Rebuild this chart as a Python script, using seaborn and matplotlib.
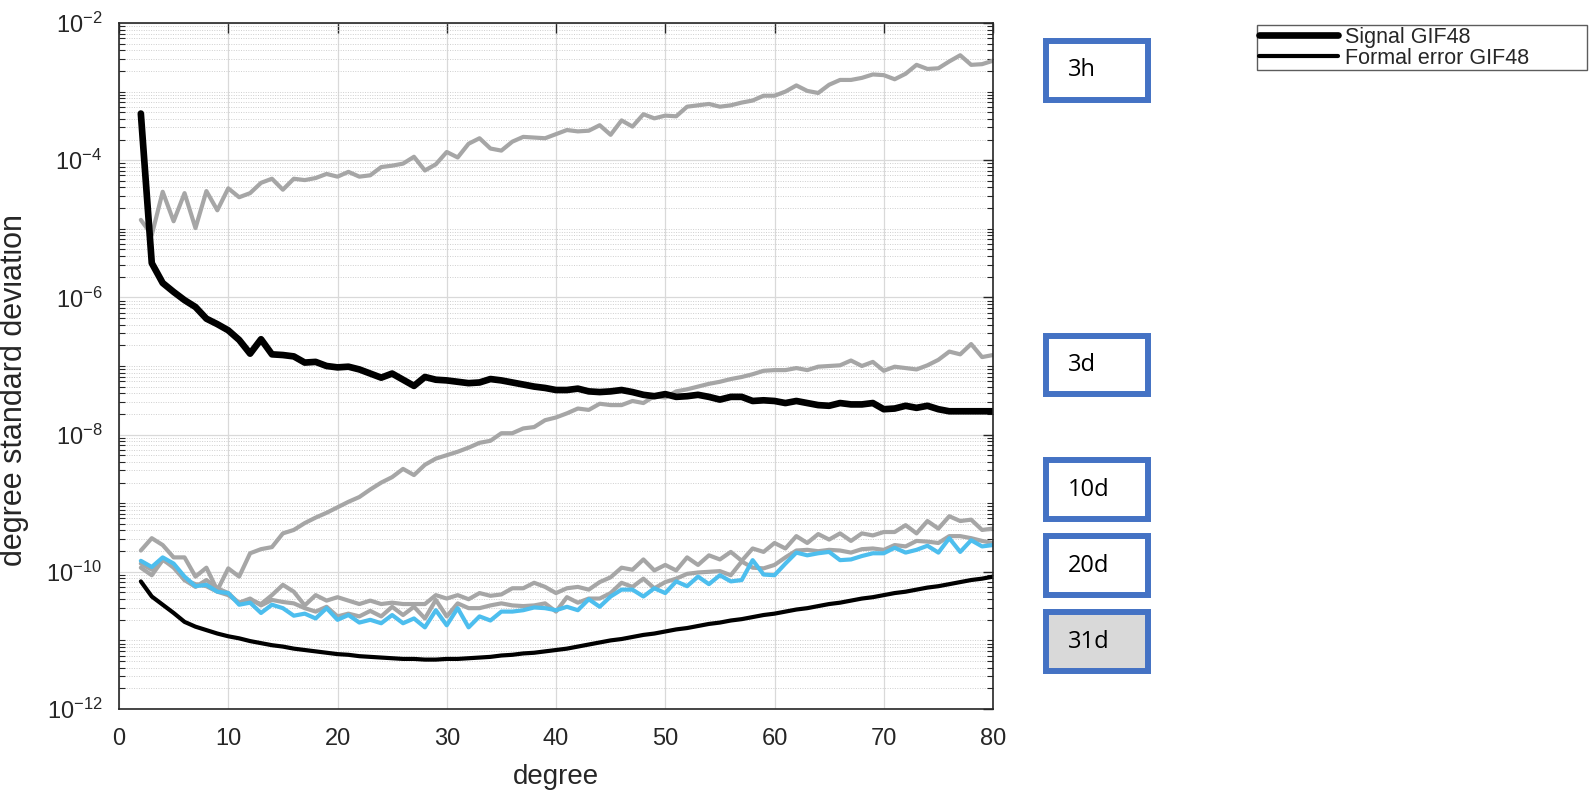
import numpy as np
import pandas as pd
import matplotlib
matplotlib.use("Agg")
import matplotlib.pyplot as plt
import matplotlib.ticker as mticker
from matplotlib.patches import Rectangle
import seaborn as sns

# ---------------- data (log10 of degree standard deviation) ----------------
degrees = list(range(2, 81))

signal_log10 = [-3.32, -5.50, -5.79, -5.92, -6.04, -6.14, -6.31, -6.39, -6.48, -6.62,
                -6.82, -6.61, -6.83, -6.84, -6.86, -6.95, -6.94, -7.00, -7.02, -7.01,
                -7.05, -7.11, -7.17, -7.11, -7.20, -7.29, -7.16, -7.20, -7.21, -7.23,
                -7.25, -7.24, -7.19, -7.21, -7.24, -7.27, -7.30, -7.32, -7.35, -7.35,
                -7.33, -7.37, -7.38, -7.37, -7.35, -7.38, -7.42, -7.44, -7.41, -7.45,
                -7.44, -7.42, -7.45, -7.49, -7.45, -7.45, -7.51, -7.50, -7.51, -7.54,
                -7.51, -7.54, -7.57, -7.58, -7.54, -7.56, -7.56, -7.54, -7.63, -7.62,
                -7.58, -7.61, -7.58, -7.63, -7.66, -7.66, -7.66, -7.66, -7.66]

formal_log10 = [-10.14, -10.36, -10.48, -10.60, -10.73, -10.80, -10.85, -10.90, -10.94, -10.97,
                -11.01, -11.04, -11.07, -11.09, -11.12, -11.14, -11.16, -11.18, -11.20, -11.21,
                -11.23, -11.24, -11.25, -11.26, -11.27, -11.27, -11.28, -11.28, -11.27, -11.27,
                -11.26, -11.25, -11.24, -11.22, -11.21, -11.19, -11.18, -11.16, -11.14, -11.12,
                -11.09, -11.06, -11.03, -11.00, -10.98, -10.95, -10.92, -10.90, -10.87, -10.84,
                -10.82, -10.79, -10.76, -10.74, -10.71, -10.69, -10.66, -10.63, -10.61, -10.58,
                -10.55, -10.53, -10.50, -10.47, -10.45, -10.42, -10.39, -10.37, -10.34, -10.31,
                -10.29, -10.26, -10.23, -10.21, -10.18, -10.15, -10.12, -10.10, -10.07]

h3_log10 = [-4.87, -5.09, -4.46, -4.89, -4.48, -4.99, -4.45, -4.73, -4.41, -4.54,
            -4.48, -4.33, -4.27, -4.43, -4.27, -4.29, -4.26, -4.20, -4.24, -4.17,
            -4.24, -4.22, -4.10, -4.08, -4.05, -3.95, -4.15, -4.06, -3.88, -3.96,
            -3.76, -3.68, -3.83, -3.86, -3.73, -3.66, -3.67, -3.68, -3.62, -3.56,
            -3.58, -3.57, -3.49, -3.63, -3.42, -3.51, -3.33, -3.39, -3.35, -3.36,
            -3.22, -3.20, -3.18, -3.22, -3.20, -3.16, -3.13, -3.06, -3.06, -3.00,
            -2.91, -2.99, -3.02, -2.90, -2.83, -2.83, -2.80, -2.75, -2.76, -2.82,
            -2.74, -2.61, -2.67, -2.66, -2.56, -2.47, -2.61, -2.60, -2.55]

d3_log10 = [-9.69, -9.51, -9.61, -9.79, -9.79, -10.07, -9.94, -10.27, -9.95, -10.07,
            -9.73, -9.67, -9.64, -9.44, -9.39, -9.29, -9.21, -9.14, -9.06, -8.98,
            -8.91, -8.80, -8.70, -8.62, -8.50, -8.59, -8.44, -8.35, -8.30, -8.25,
            -8.19, -8.12, -8.09, -7.98, -7.98, -7.91, -7.89, -7.79, -7.75, -7.69,
            -7.62, -7.64, -7.55, -7.57, -7.57, -7.51, -7.54, -7.44, -7.46, -7.37,
            -7.34, -7.30, -7.26, -7.23, -7.19, -7.16, -7.12, -7.07, -7.06, -7.06,
            -7.03, -7.06, -7.01, -7.00, -6.99, -6.92, -7.00, -6.94, -7.07, -7.01,
            -7.03, -7.05, -6.99, -6.91, -6.79, -6.83, -6.68, -6.87, -6.84]

d10_log10 = [-9.94, -10.05, -9.83, -9.90, -10.12, -10.22, -10.12, -10.24, -10.31, -10.46,
             -10.41, -10.47, -10.34, -10.19, -10.29, -10.49, -10.34, -10.42, -10.37, -10.42,
             -10.47, -10.42, -10.47, -10.45, -10.47, -10.47, -10.47, -10.34, -10.39, -10.34,
             -10.40, -10.31, -10.35, -10.33, -10.24, -10.24, -10.16, -10.22, -10.31, -10.24,
             -10.22, -10.26, -10.15, -10.08, -9.94, -9.97, -9.82, -9.98, -9.90, -9.98,
             -9.79, -9.90, -9.76, -9.82, -9.71, -9.84, -9.66, -9.71, -9.58, -9.66,
             -9.48, -9.58, -9.45, -9.53, -9.44, -9.55, -9.44, -9.47, -9.42, -9.42,
             -9.32, -9.44, -9.26, -9.37, -9.19, -9.26, -9.24, -9.39, -9.37]

d20_log10 = [-9.88, -9.97, -9.82, -9.94, -10.12, -10.18, -10.21, -10.29, -10.34, -10.45,
             -10.39, -10.49, -10.41, -10.44, -10.46, -10.53, -10.58, -10.51, -10.65, -10.61,
             -10.65, -10.57, -10.65, -10.51, -10.63, -10.51, -10.68, -10.41, -10.65, -10.46,
             -10.53, -10.53, -10.49, -10.46, -10.49, -10.50, -10.49, -10.46, -10.58, -10.37,
             -10.45, -10.39, -10.39, -10.31, -10.16, -10.22, -10.10, -10.24, -10.15, -10.10,
             -10.03, -10.01, -10.00, -9.99, -10.05, -9.85, -9.94, -9.95, -9.90, -9.79,
             -9.69, -9.68, -9.70, -9.68, -9.69, -9.72, -9.67, -9.66, -9.68, -9.61,
             -9.63, -9.55, -9.56, -9.58, -9.48, -9.48, -9.51, -9.55, -9.58]

d31_log10 = [-9.84, -9.93, -9.79, -9.88, -10.07, -10.21, -10.19, -10.29, -10.31, -10.48,
             -10.45, -10.60, -10.48, -10.53, -10.64, -10.61, -10.68, -10.53, -10.70, -10.63,
             -10.74, -10.70, -10.75, -10.63, -10.75, -10.68, -10.81, -10.56, -10.78, -10.53,
             -10.81, -10.65, -10.71, -10.58, -10.58, -10.56, -10.52, -10.53, -10.56, -10.51,
             -10.56, -10.40, -10.51, -10.36, -10.26, -10.26, -10.36, -10.24, -10.31, -10.14,
             -10.21, -10.07, -10.18, -10.05, -10.14, -10.12, -9.83, -10.04, -10.05, -9.88,
             -9.72, -9.76, -9.73, -9.71, -9.83, -9.82, -9.77, -9.73, -9.73, -9.65,
             -9.72, -9.68, -9.62, -9.72, -9.51, -9.71, -9.54, -9.63, -9.61]

box_labels = ["3h", "3d", "10d", "20d", "31d"]
legend_labels = ["Signal GIF48", "Formal error GIF48"]
y_tick_exponents = [-12, -10, -8, -6, -4, -2]
x_ticks = [0, 10, 20, 30, 40, 50, 60, 70, 80]

# ---------------- style ----------------
sns.set_style("white")
plt.rcParams["font.family"] = ["Liberation Sans", "DejaVu Sans"]
plt.rcParams["mathtext.fontset"] = "custom"
plt.rcParams["mathtext.rm"] = "Liberation Sans"
plt.rcParams["mathtext.it"] = "Liberation Sans:italic"
plt.rcParams["mathtext.default"] = "regular"

W, H = 1589, 793
fig = plt.figure(figsize=(W / 100, H / 100), dpi=100)
ax_l, ax_r, ax_t, ax_b = 119, 993, 23, 709
ax = fig.add_axes([ax_l / W, 1 - ax_b / H, (ax_r - ax_l) / W, (ax_b - ax_t) / H])

GRAY = "#a6a6a6"
BLUE = "#4dbeee"

def series(vals):
    return pd.DataFrame({"degree": degrees, "value": np.power(10.0, vals)})

gray_lw = 3.0
sns.lineplot(data=series(h3_log10), x="degree", y="value", color=GRAY, lw=gray_lw, ax=ax, label="_nolegend_")
sns.lineplot(data=series(d3_log10), x="degree", y="value", color=GRAY, lw=gray_lw, ax=ax, label="_nolegend_")
sns.lineplot(data=series(d10_log10), x="degree", y="value", color=GRAY, lw=gray_lw, ax=ax, label="_nolegend_")
sns.lineplot(data=series(d20_log10), x="degree", y="value", color=GRAY, lw=gray_lw, ax=ax, label="_nolegend_")
sns.lineplot(data=series(d31_log10), x="degree", y="value", color=BLUE, lw=gray_lw, ax=ax, label="_nolegend_")
sns.lineplot(data=series(signal_log10), x="degree", y="value", color="black", lw=4.8, ax=ax,
             label=legend_labels[0])
sns.lineplot(data=series(formal_log10), x="degree", y="value", color="black", lw=3.0, ax=ax,
             label=legend_labels[1])

ax.set_yscale("log")
ax.set_xlim(0, 80)
ax.set_ylim(1e-12, 1e-2)

# ticks
ax.xaxis.set_major_locator(mticker.FixedLocator(x_ticks))
ax.set_xticklabels([str(t) for t in x_ticks])
ax.yaxis.set_major_locator(mticker.FixedLocator([10.0 ** e for e in y_tick_exponents]))
ax.yaxis.set_major_formatter(mticker.FixedFormatter([r"$10^{%d}$" % e for e in y_tick_exponents]))
ax.yaxis.set_minor_locator(mticker.LogLocator(base=10, subs=np.arange(1, 10), numticks=100))
ax.yaxis.set_minor_formatter(mticker.NullFormatter())
ax.tick_params(axis="both", which="major", direction="in", length=7, width=1.0,
               labelsize=17, colors="#262626", top=True, right=True)
ax.tick_params(axis="x", which="major", pad=14)
ax.tick_params(axis="y", which="major", pad=12)
ax.tick_params(axis="y", which="minor", direction="in", length=4, width=0.8,
               colors="#262626", left=True, right=True)

ax.grid(True, which="major", axis="both", color="#d9d9d9", lw=0.9, ls="-")
ax.grid(True, which="minor", axis="y", color="#cfcfcf", lw=0.7, ls=(0, (1, 1.5)))
ax.set_axisbelow(True)
for s in ax.spines.values():
    s.set_color("#262626")
    s.set_linewidth(1.2)

ax.set_xlabel("degree", fontsize=20, color="#262626", labelpad=10)
ax.set_ylabel("degree standard deviation", fontsize=22, color="#262626")
ax.yaxis.set_label_coords(-0.103, 0.465)

# legend (frame spanning the top-right corner)
lx0, lx1, ly0, ly1 = 1257, 1587, 25, 66
leg = ax.legend(loc="upper left",
                bbox_to_anchor=(lx0 / W, 1 - ly1 / H, (lx1 - lx0) / W, (ly1 - ly0) / H),
                bbox_transform=fig.transFigure, mode="expand", frameon=True, fancybox=False,
                fontsize=15.5, handlelength=3.7, handletextpad=0.3, borderpad=0.08,
                labelspacing=0.0, borderaxespad=0)
leg.get_frame().set_edgecolor("#333333")
leg.get_frame().set_linewidth(1.0)

# labelled boxes on the right
box_x0, box_x1 = 1046, 1148
box_rows = [(41, 100), (336, 394), (460, 519), (536, 595), (612, 671)]
for lab, (y0, y1) in zip(box_labels, box_rows):
    face = "#d9d9d9" if lab == "31d" else "white"
    rect = Rectangle((box_x0 / W, 1 - y1 / H), (box_x1 - box_x0) / W, (y1 - y0) / H,
                     transform=fig.transFigure, facecolor=face, edgecolor="#4472c4",
                     linewidth=4.3, zorder=5)
    fig.patches.append(rect)
    fig.text((box_x0 + 22) / W, 1 - (y0 + y1) / 2 / H, lab, fontsize=17,
             family=["Open Sans", "DejaVu Sans"], color="black", va="center", ha="left", zorder=6)

fig.savefig("out.png", dpi=100)
